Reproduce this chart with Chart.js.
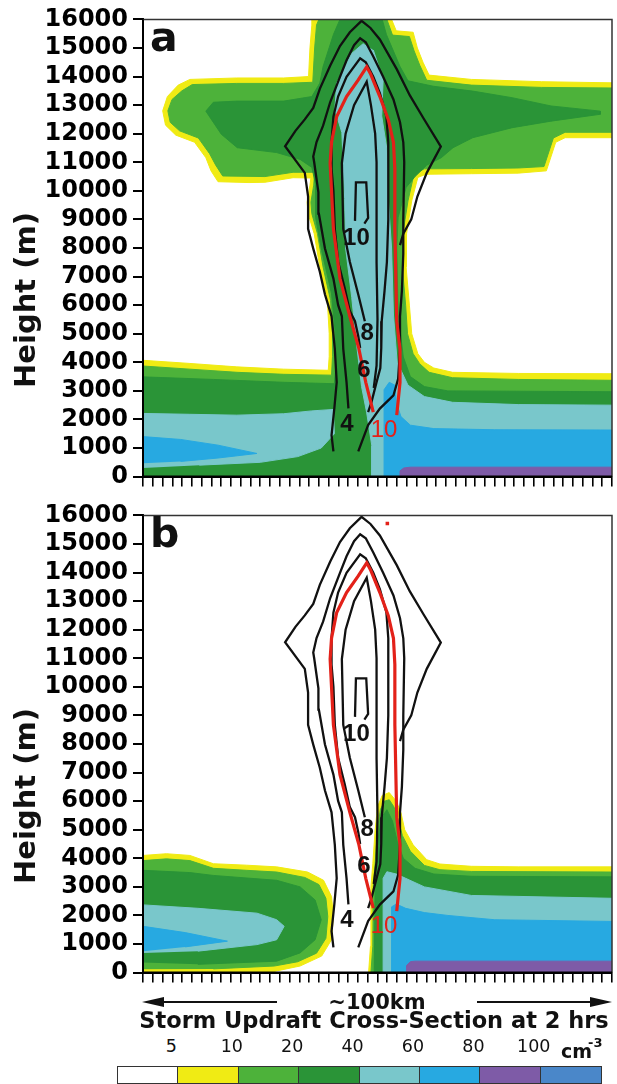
<!DOCTYPE html>
<html>
<head>
<meta charset="utf-8">
<script src="https://cdn.jsdelivr.net/npm/chart.js@4.4.1/dist/chart.umd.min.js"></script>
<style>
  body { margin: 0; background: #fff; }
  #page { position: relative; width: 617px; height: 1084px; overflow: hidden; font-family: "DejaVu Sans", sans-serif; color: #111; }
  canvas { position: absolute; left: 0; }
  .txt { position: absolute; white-space: nowrap; line-height: 1; }
  #km { left: 277px; width: 200px; top: 992px; text-align: center; font-weight: bold; font-size: 21px; background: #fff; }
  #title { left: 124px; width: 500px; top: 1009px; text-align: center; font-weight: bold; font-size: 22.5px; }
  .clab { position: absolute; top: 1038px; font-size: 17.5px; line-height: 1; width: 60px; text-align: center; }
  #unit { position: absolute; left: 561px; top: 1040px; font-size: 19px; font-weight: bold; line-height: 1; }
  #unit sup { font-size: 13px; position: relative; top: -4px; margin-left: -4px; }
  .box { position: absolute; top: 1066px; height: 18px; box-sizing: border-box; border: 1.5px solid #333; }
</style>
</head>
<body>
<div id="page">
  <canvas id="chartA" width="617" height="496" style="top:0"></canvas>
  <canvas id="chartB" width="617" height="496" style="top:496px"></canvas>
  <svg width="617" height="20" style="position:absolute;left:0;top:992px">
    <line x1="160" y1="10" x2="330" y2="10" stroke="#111" stroke-width="2"/>
    <polygon points="142,10 164,5 164,15" fill="#111"/>
    <line x1="425" y1="10" x2="594" y2="10" stroke="#111" stroke-width="2"/>
    <polygon points="612,10 590,5 590,15" fill="#111"/>
  </svg>
  <div id="km" class="txt">~100km</div>
  <div id="title" class="txt">Storm Updraft Cross-Section at 2 hrs</div>
  <div id="cbar"></div>
</div>
<script>
// ---- axes ----
const heightTicks = [0,1000,2000,3000,4000,5000,6000,7000,8000,9000,10000,11000,12000,13000,14000,15000,16000];
const xTickValues = Array.from({length: 49}, (_, i) => i * 100 / 48);

// ---- colour bar ----
const cbarLevels = ['5','10','20','40','60','80','100'];
const cbarColors = ['#ffffff','#f0eb14','#4db23a','#2a9437','#79c7cb','#27a9e1','#7e5ba7','#4a87c9'];

// ---- panel a fills (x: 0-100 across section, y: m) ----
const aYellow = [[0,0],[0,4070],[10,3960],[20,3840],[30,3760],[39.5,3720],[39.7,4200],[39.7,5000],[39.3,6160],[37.7,7330],[36.5,8500],[35.2,9200],[35,9600],[35.6,10200],[35.8,10450],[32,10460],[26,10300],[22.6,10290],[16,10320],[14.5,10700],[13.4,11160],[11,11700],[7,11950],[4.8,12300],[4.2,12800],[5.2,13300],[7.5,13700],[10,13900],[20,13950],[30,13950],[35.3,14000],[35.6,15000],[36,15800],[36,16000],[53,16000],[54,15600],[57.6,15550],[58.5,15000],[59.7,14500],[61,14050],[70,13900],[85,13820],[100,13780],[100,11860],[90,11860],[88,11700],[86,10700],[80,10620],[70,10600],[60.3,10580],[58.6,10470],[57.3,9650],[56.2,8500],[56.1,7330],[56.8,6000],[57.3,5000],[58.6,4300],[60,4000],[62,3800],[66,3650],[80,3610],[100,3600],[100,0]];
const aLightGreen = [[0,0],[0,3870],[10,3760],[20,3650],[30,3580],[40.2,3550],[40.4,4200],[40.4,5000],[40,6160],[38.4,7330],[37.2,8500],[36,9200],[35.8,9600],[36.4,10200],[36.6,10650],[32,10650],[26,10500],[17,10520],[15.5,10900],[14.2,11300],[11.8,11850],[7.8,12100],[5.8,12400],[5.3,12800],[6.2,13200],[8.3,13500],[10.5,13720],[20,13760],[30,13760],[36.2,13800],[36.6,15000],[37,15800],[37.5,16000],[52,16000],[53.2,15450],[56.8,15400],[57.8,14900],[59,14400],[60.5,13870],[70,13700],[85,13620],[100,13600],[100,12050],[90,12050],[87.5,11850],[85.5,10850],[80,10800],[70,10780],[60,10770],[57.8,10600],[56.5,9650],[55.4,8500],[55.3,7330],[56,6000],[56.4,5000],[57.6,4300],[59,3950],[61,3650],[66,3460],[80,3400],[100,3370],[100,0]];
const aDarkGreen = [[0,0],[0,3490],[15,3400],[30,3300],[40.8,3250],[41.2,4000],[41,5000],[40.2,6400],[38.1,7910],[36.8,9070],[36.8,10230],[36,10820],[33.5,11100],[28.5,11340],[20.1,11510],[16.7,11980],[13.4,12790],[15,13100],[20,13140],[30,13140],[36,13300],[37.7,13770],[38.4,14350],[40.6,15470],[42,16000],[51,16000],[51.9,15470],[54.8,14350],[56.5,13850],[61.9,13660],[70.3,13490],[78.7,13260],[87,12970],[97.5,12790],[97.5,12680],[87,12440],[78.7,12210],[70.3,11860],[66.1,11510],[63.6,11160],[60.5,10900],[58,10500],[56.1,10120],[54.4,9070],[54.1,8000],[54.4,5690],[55.5,4190],[57,3500],[60,3150],[65,3000],[100,2970],[100,0]];
const aTealCore = [[47,15160],[44.5,14810],[41.3,13770],[40.9,12850],[42.4,12040],[42.7,10880],[43,9730],[43.2,8000],[44.5,6270],[45.6,4540],[46.6,3150],[47.7,2230],[48.8,1070],[48.8,0],[100,0],[100,2500],[80,2520],[66,2600],[60,2800],[56.5,3200],[54.2,4000],[53.4,5690],[53,8000],[52.3,9730],[52,11460],[50.9,12620],[51.2,13890],[49.1,14930]];
const aTealLeft = [[0,300],[0,2210],[10,2180],[20,2150],[30,2200],[36,2300],[40.6,2350],[40.8,1500],[38,1000],[33,700],[25,500],[12,400]];
const aBlueLeft = [[0,465],[0,1400],[8,1300],[16,1100],[24.3,810],[16,650],[8,530]];
const aBlueRight = [[51.4,0],[51.4,3040],[52.5,3300],[53.7,3200],[54,2600],[55,2100],[57,1800],[62,1680],[75,1640],[100,1630],[100,0]];
const aPurple = [[54.8,0],[54.8,200],[55.6,300],[57,330],[100,330],[100,0]];

// ---- panel b fills ----
const bYellowL = [[0,0],[0,4100],[5,4160],[10,4100],[15,3810],[22,3760],[28.5,3700],[35.1,3520],[38.5,3230],[40.2,2660],[40.6,1960],[40.2,1150],[38.1,580],[33.5,230],[28.5,60],[27,0]];
const bLightGreenL = [[0,120],[0,3920],[5,3980],[10,3920],[15,3650],[22,3580],[28.5,3520],[34.5,3330],[37.5,3080],[39,2600],[39.4,1960],[39,1200],[37,680],[33,380],[28,230],[15,130]];
const bDarkGreenL = [[0,350],[0,3580],[10,3500],[15,3400],[28.5,3230],[33.5,3000],[36.7,2540],[38,1850],[36.7,1150],[33.5,690],[28.5,400],[11.7,290]];
const bTealL = [[0,690],[0,2370],[11.7,2250],[24.3,2080],[28.5,1850],[30.1,1620],[28.5,1150],[24.3,980],[11.7,750]];
const bBlueL = [[0,750],[0,1620],[9,1400],[18,1100],[9,900]];
const bYellowR = [[48.1,0],[48.5,920],[48.6,3000],[49,3810],[49.5,5000],[50,5800],[51,6200],[52.5,6300],[54,6000],[55,5600],[55.8,5000],[57.6,4470],[60.5,3950],[63.3,3800],[70,3720],[80,3700],[100,3700],[100,0]];
const bLightGreenR = [[48.6,0],[49,920],[49.1,3000],[49.5,3810],[50,5000],[50.6,5700],[51.5,6000],[52.5,6050],[53.5,5800],[54.5,5300],[55.3,4800],[57,4250],[60,3750],[63.3,3600],[70,3540],[100,3520],[100,0]];
const bDarkGreenR = [[49.3,0],[49.5,3000],[50,4500],[50.8,5400],[52,5700],[53.2,5300],[54.2,4600],[55.5,4000],[58,3650],[62,3450],[70,3370],[100,3350],[100,0]];
const bTealR = [[51.2,0],[51.2,3300],[52,3530],[54,3450],[56,3300],[60,3000],[70,2700],[100,2600],[100,0]];
const bBlueR = [[53,0],[53,2300],[54,2400],[56,2250],[60,2100],[65,2000],[75,1850],[100,1790],[100,0]];
const bPurpleR = [[56.2,0],[56.2,250],[57,380],[58,400],[100,400],[100,0]];

// ---- updraft contours (same in both panels) ----
const contour1 = [[40.6,880],[40.2,1450],[40.8,2400],[41.3,3300],[40.9,4470],[40.2,5610],[38.8,6370],[37.7,7170],[36.3,7980],[35.2,8670],[35.2,9800],[34.5,10630],[30.3,11560],[32.5,12100],[34.5,12500],[36.3,12900],[37.7,13570],[39.9,14380],[42,15070],[44.1,15550],[46.6,15950],[48.5,15700],[50.5,15300],[54.1,14260],[56.9,13340],[59.8,12540],[63.5,11550],[60.5,10630],[58.5,9800],[57.2,9000],[55.5,8500],[54.8,8100]];
const contour2 = [[43.8,2390],[43.4,3300],[42.7,4470],[42.4,5610],[41.6,6010],[40.6,6930],[38.8,7980],[37.5,9200],[37.4,9950],[36.5,11000],[36.3,11200],[37,11710],[38.4,12280],[39.9,13100],[42,13990],[43.4,14570],[45,15100],[46.3,15340],[47.5,15200],[49.1,14700],[51.2,13990],[53.4,13200],[54.8,12400],[55.5,11700],[55.7,11000],[55.5,9000],[55.5,7800],[55.2,6500],[54.8,5610],[54.8,4460],[54.4,3420],[53.4,2840],[50.5,2380],[48,1800],[45.9,880]];
const contour3 = [[46.3,4500],[45.9,4910],[45.2,5440],[44.1,5790],[43,6600],[41.6,7520],[40.9,8670],[40.6,10000],[40.2,10780],[40.2,11700],[40.6,12600],[41.6,13300],[43.4,13990],[46.3,14640],[47.5,14500],[49.1,13990],[50.5,13420],[51.9,12600],[52.3,11700],[52.3,10780],[52.3,9000],[52,7500],[51.5,6500],[50.9,5440],[50.8,4500],[50.6,3800],[49.8,3300],[48.7,2600],[48,2260]];
const contour4 = [[47.3,5440],[45.9,6370],[44.1,7520],[42.7,8670],[42.4,10970],[43.2,12000],[45,13000],[47.7,13820],[48.6,13000],[49.5,12000],[49.8,11000],[49.8,7500],[50,5500],[49.8,3880],[49.2,3100]];
const contour5 = [[45.2,8950],[45.4,10300],[47.6,10300],[48,9050],[47.2,8850]];
const redContour = [[49.1,2260],[47.5,3300],[46,4500],[44.1,5610],[42,6930],[40.6,8670],[39.9,10970],[40.2,11700],[41.3,12600],[43.4,13300],[45.9,13880],[47.7,14340],[48.5,14100],[50.5,13300],[52.3,12490],[53.4,11700],[53.7,10780],[53.7,8670],[54.1,5440],[54.8,4460],[54.8,3300],[54.1,2150]];
const bRedDot = [[52.1,15720]];

// contour labels
const labelText = ['10','8','6','4','10'];
const labelX = [45.5,47.8,47.1,43.5,51.4];
const labelY = [8340,5020,3700,1830,1620];

// ---- styles ----
const C = { yellow: cbarColors[1], lgreen: cbarColors[2], dgreen: cbarColors[3], teal: cbarColors[4], blue: cbarColors[5], purple: cbarColors[6] };
const labelStyle = [
  {font: 'bold 24px "Liberation Sans"', color: '#111'},
  {font: 'bold 24px "Liberation Sans"', color: '#111'},
  {font: 'bold 24px "Liberation Sans"', color: '#111'},
  {font: 'bold 24px "Liberation Sans"', color: '#111'},
  {font: '24px "Liberation Sans"', color: '#e32119'}
];

Chart.defaults.font.family = '"DejaVu Sans"';

// рамка, подписи изолиний, буква панели, подпись оси
const overlay = {
  id: 'overlay',
  afterDatasetsDraw(chart, args, opts) {
    const {ctx, chartArea: a, scales: {x, y}} = chart;
    ctx.save();
    ctx.textAlign = 'center';
    ctx.textBaseline = 'middle';
    labelText.forEach((t, i) => {
      ctx.font = labelStyle[i].font;
      ctx.fillStyle = labelStyle[i].color;
      ctx.fillText(t, x.getPixelForValue(labelX[i]), y.getPixelForValue(labelY[i]));
    });
    // frame
    ctx.strokeStyle = '#333';
    ctx.lineWidth = 1.5;
    ctx.beginPath();
    ctx.moveTo(a.left, a.top); ctx.lineTo(a.right, a.top); ctx.lineTo(a.right, a.bottom);
    ctx.stroke();
    ctx.strokeStyle = '#000';
    ctx.lineWidth = 2;
    ctx.beginPath();
    ctx.moveTo(a.left, a.top); ctx.lineTo(a.left, a.bottom); ctx.lineTo(a.right, a.bottom);
    ctx.stroke();
    // panel letter
    ctx.fillStyle = '#111';
    ctx.textAlign = 'left';
    ctx.textBaseline = 'alphabetic';
    ctx.font = 'bold 41px "DejaVu Sans"';
    ctx.fillText(opts.letter, a.left + 7, a.top + 32);
    // y axis title
    ctx.translate(27, (a.top + a.bottom) / 2 + 52);
    ctx.rotate(-Math.PI / 2);
    ctx.textAlign = 'center';
    ctx.textBaseline = 'middle';
    ctx.font = 'bold 29px "DejaVu Sans"';
    ctx.fillText('Height (m)', 0, 0);
    ctx.restore();
  }
};

function fillSet(color, poly) {
  return { data: poly, showLine: true, fill: 'shape', backgroundColor: color, borderColor: color, borderWidth: 1, pointRadius: 0 };
}
function lineSet(color, width, poly) {
  return { data: poly, showLine: true, fill: false, borderColor: color, borderWidth: width, pointRadius: 0 };
}

function makeChart(id, fills, letter, padTop, extra) {
  const datasets = fills.map(([c, p]) => fillSet(c, p));
  [contour1, contour2, contour3, contour4, contour5].forEach(p => datasets.push(lineSet('#111', 2.3, p)));
  datasets.push(lineSet('#e32119', 3.2, redContour));
  extra.forEach(d => datasets.push(d));
  // later datasets drawn on top
  datasets.forEach((d, i) => { d.order = datasets.length - i; });

  return new Chart(document.getElementById(id), {
    type: 'scatter',
    data: { datasets },
    options: {
      responsive: false,
      animation: false,
      events: [],
      layout: { padding: { top: padTop, right: 5, bottom: 0, left: 0 } },
      plugins: { legend: { display: false }, tooltip: { enabled: false }, overlay: { letter } },
      scales: {
        x: {
          type: 'linear', min: 0, max: 100,
          afterBuildTicks: s => { s.ticks = xTickValues.map(v => ({ value: v })); },
          afterFit: s => { s.height = 15; },
          ticks: { autoSkip: false, maxRotation: 0, callback: () => '' },
          grid: { drawOnChartArea: false, tickLength: 10, color: '#000', lineWidth: 1.6 },
          border: { color: '#000', width: 2 }
        },
        y: {
          min: 0, max: 16000,
          afterBuildTicks: s => { s.ticks = heightTicks.map(v => ({ value: v })); },
          afterFit: s => { s.width = 143; },
          ticks: { autoSkip: false, padding: 5, color: '#000', callback: v => String(v),
                   font: { family: '"DejaVu Sans"', weight: 'bold', size: 24 } },
          grid: { drawOnChartArea: false, tickLength: 10, color: '#000', lineWidth: 2 },
          border: { color: '#000', width: 2 }
        }
      }
    },
    plugins: [overlay]
  });
}

makeChart('chartA', [
  [C.yellow, aYellow], [C.lgreen, aLightGreen], [C.dgreen, aDarkGreen],
  [C.teal, aTealCore], [C.teal, aTealLeft], [C.blue, aBlueLeft], [C.blue, aBlueRight], [C.purple, aPurple]
], 'a', 19, []);

makeChart('chartB', [
  [C.yellow, bYellowL], [C.lgreen, bLightGreenL], [C.dgreen, bDarkGreenL], [C.teal, bTealL], [C.blue, bBlueL],
  [C.yellow, bYellowR], [C.lgreen, bLightGreenR], [C.dgreen, bDarkGreenR], [C.teal, bTealR], [C.blue, bBlueR], [C.purple, bPurpleR]
], 'b', 18, [
  { data: bRedDot, showLine: false, pointStyle: 'rect', pointRadius: 2.5, backgroundColor: '#e32119', borderWidth: 0 }
]);

// colour bar
const cbar = document.getElementById('cbar');
const boxLeft = 117, boxW = 60.4;
cbarColors.forEach((c, i) => {
  const b = document.createElement('div');
  b.className = 'box';
  b.style.left = (boxLeft + i * boxW) + 'px';
  b.style.width = (boxW + 1.5) + 'px';
  b.style.background = c;
  cbar.appendChild(b);
});
cbarLevels.forEach((t, i) => {
  const l = document.createElement('div');
  l.className = 'clab';
  l.textContent = t;
  l.style.left = (boxLeft + (i + 1) * boxW - 6 - 30) + 'px';
  cbar.appendChild(l);
});
const unit = document.createElement('div');
unit.id = 'unit';
unit.innerHTML = 'cm<sup>-3</sup>';
cbar.appendChild(unit);
</script>
</body>
</html>
